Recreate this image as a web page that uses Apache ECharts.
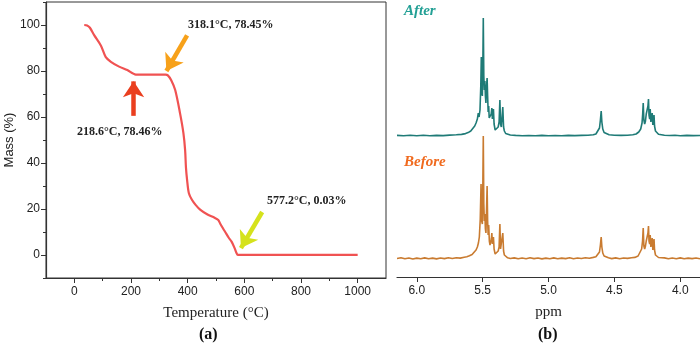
<!DOCTYPE html>
<html>
<head>
<meta charset="utf-8">
<script src="https://cdn.jsdelivr.net/npm/echarts@6/dist/echarts.min.js"></script>
<style>
  html, body { margin: 0; padding: 0; background: #fff; }
  #coolgraph { width: 700px; height: 348px; }
</style>
</head>
<body>
<div id="coolgraph"></div>
<script>
// TGA curve (a)
var tempC   = [35, 45, 55, 70, 94, 111, 129, 158, 187, 217, 250, 300, 322, 330, 342, 356, 373, 385, 391, 394, 398, 404, 415, 428, 445, 470, 495, 508, 515, 525, 532, 545, 555, 566, 572, 577, 600, 700, 800, 900, 1000];
var massPct = [100, 99.8, 98.8, 95.6, 91, 86, 84, 81.9, 80.4, 78.46, 78.45, 78.45, 78.45, 78.1, 76, 71.7, 61.7, 53, 45.6, 38, 32.6, 27, 24, 21.8, 19.6, 17.6, 16.2, 15.2, 13.6, 11.5, 10.1, 7.5, 5.8, 2.9, 1.0, 0.03, 0.03, 0.03, 0.03, 0.03, 0.03];
var tempTicks = [0, 200, 400, 600, 800, 1000];
var tempMinor = [100, 300, 500, 700, 900];
var massTicks = [0, 20, 40, 60, 80, 100];
var massMinor = [-10, 10, 30, 50, 70, 90, 110];

// NMR spectra (b): [ppm, intensity above baseline]
var afterSpec = [
  [6.15,0.6],[6.10,0.2],[6.05,0.8],[6.00,0.3],[5.95,0.7],[5.90,0.2],[5.85,0.6],[5.80,0.4],[5.75,0.9],[5.70,1.2],
  [5.66,1.6],[5.63,2.4],[5.61,3.4],[5.59,5],[5.575,7],[5.56,10],[5.55,13],[5.54,17],[5.533,23],[5.527,19],
  [5.52,26],[5.514,50],[5.51,79],[5.506,44],[5.502,40],[5.498,75],[5.495,118],[5.491,60],[5.487,46],[5.483,55],
  [5.479,40],[5.475,33],[5.471,48],[5.466,58],[5.462,40],[5.458,24],[5.454,30],[5.45,18],[5.446,16],[5.44,17],
  [5.435,22],[5.43,28],[5.426,17],[5.422,15],[5.418,27],[5.413,12],[5.405,6],[5.397,5],[5.39,6],[5.382,9],
  [5.375,14],[5.369,36],[5.364,12],[5.358,9],[5.353,11],[5.347,29],[5.341,9],[5.335,5],[5.325,2.5],[5.31,1.5],
  [5.29,1],[5.25,0.6],[5.20,0.3],[5.15,0.5],[5.10,0.2],[5.05,0.6],[5.00,0.3],[4.95,0.5],[4.90,0.3],[4.85,0.6],
  [4.80,0.4],[4.75,0.6],[4.70,0.8],[4.66,1.2],[4.64,2],[4.625,3.5],[4.613,8],[4.606,16],[4.60,25],[4.595,14],
  [4.588,7],[4.578,3.5],[4.565,2],[4.54,1.2],[4.50,0.8],[4.45,0.6],[4.40,0.8],[4.36,1.2],[4.335,2],[4.315,4],
  [4.30,7],[4.29,13],[4.285,22],[4.281,33],[4.276,16],[4.27,12],[4.264,15],[4.258,22],[4.254,24],[4.249,20],
  [4.245,30],[4.241,37],[4.237,21],[4.232,17],[4.228,27],[4.223,14],[4.218,12],[4.213,23],[4.208,11],[4.203,10],
  [4.199,21],[4.195,10],[4.188,5],[4.178,3],[4.165,1.8],[4.15,1.2],[4.12,0.8],[4.08,0.5],[4.04,0.7],[4.00,0.3],
  [3.95,0.6],[3.90,0.4],[3.85,0.5]
];
var beforeSpec = [
  [6.15,0.5],[6.12,1.2],[6.09,0.2],[6.06,1.0],[6.03,0],[6.00,0.9],[5.97,0.3],[5.94,1.1],[5.91,0.2],[5.88,0.9],
  [5.85,0.1],[5.82,1.0],[5.79,0.4],[5.76,1.2],[5.73,0.5],[5.70,1.3],[5.67,0.9],[5.64,1.8],[5.62,2.3],[5.60,3.2],
  [5.58,4.5],[5.565,6.5],[5.55,9],[5.54,12],[5.532,16],[5.525,22],[5.518,40],[5.512,75],[5.507,38],[5.502,35],
  [5.498,80],[5.495,123],[5.491,55],[5.487,38],[5.483,45],[5.479,30],[5.475,26],[5.471,45],[5.466,73],[5.462,38],
  [5.458,24],[5.454,34],[5.449,18],[5.444,14],[5.439,16],[5.434,20],[5.43,26],[5.426,15],[5.422,14],[5.418,22],
  [5.413,10],[5.405,5],[5.397,4],[5.39,5],[5.382,8],[5.375,12],[5.369,35],[5.364,10],[5.358,8],[5.353,10],
  [5.347,26],[5.341,8],[5.335,4],[5.325,2],[5.31,1.2],[5.29,0.5],[5.26,1.1],[5.23,0.2],[5.20,1.0],[5.17,0.3],
  [5.14,1.2],[5.11,0.4],[5.08,1.0],[5.05,0.1],[5.02,0.9],[4.99,0.3],[4.96,1.1],[4.93,0.2],[4.90,0.9],[4.87,0.4],
  [4.84,1.2],[4.81,0.3],[4.78,1.0],[4.75,0.5],[4.72,1.2],[4.69,0.8],[4.66,1.6],[4.64,2.2],[4.625,3.5],[4.613,7],
  [4.606,14],[4.60,22],[4.595,12],[4.588,6],[4.578,3],[4.565,1.8],[4.545,1.2],[4.52,0.4],[4.49,1.1],[4.46,0.3],
  [4.43,1.0],[4.40,0.6],[4.37,1.3],[4.345,1.6],[4.32,3],[4.305,5],[4.293,10],[4.286,18],[4.281,31],[4.276,13],
  [4.27,10],[4.264,13],[4.258,18],[4.254,20],[4.249,18],[4.245,26],[4.241,33],[4.237,18],[4.232,15],[4.228,24],
  [4.223,12],[4.218,11],[4.213,21],[4.208,9],[4.203,9],[4.199,20],[4.195,9],[4.188,4],[4.178,2.5],[4.165,1.5],
  [4.15,0.6],[4.12,1.1],[4.09,0.2],[4.06,1.0],[4.03,0.3],[4.00,1.1],[3.97,0.2],[3.94,0.9],[3.91,0.4],[3.88,1.0],
  [3.85,0.3]
];
var ppmTicks = [6.0, 5.5, 5.0, 4.5, 4.0];

// vertical stacking of the two spectra (same units as the hidden y axis)
var afterOffset = 141;
var beforeOffset = 18;

var chartDom = document.getElementById('coolgraph');
var myChart = echarts.init(chartDom);
var option;

var sans = 'Liberation Sans, Arial, sans-serif';
var serif = 'Liberation Serif, Times New Roman, serif';
var axisColor = '#333';

var tgaData = [];
for (let i = 0; i < tempC.length; i++) {
  tgaData.push([tempC[i], massPct[i]]);
}
function shift(spec, off) {
  return spec.map(function (p) { return [p[0], p[1] + off]; });
}

function arrow(from, to, color) {
  return [
    { coord: from, lineStyle: { color: color, width: 4.5, type: 'solid' } },
    { coord: to }
  ];
}

option = {
  animation: false,
  grid: [
    { left: 46, top: 2, width: 340, height: 276, show: true, borderColor: axisColor, borderWidth: 1 },
    { left: 397, right: 0, top: 0, height: 277 }
  ],
  xAxis: [
    {
      gridIndex: 0, type: 'value', min: -100, max: 1100,
      name: 'Temperature (°C)', nameLocation: 'middle', nameGap: 28,
      nameTextStyle: { fontFamily: serif, fontSize: 15, color: '#222' },
      axisLine: { onZero: false, lineStyle: { color: axisColor, width: 1.2 } },
      axisTick: { customValues: tempTicks, length: 5, lineStyle: { color: axisColor } },
      axisLabel: {
        customValues: tempTicks, fontFamily: sans, fontSize: 12, color: '#222', margin: 8,
        formatter: function (v) { return String(v); }
      },
      splitLine: { show: false }
    },
    {
      gridIndex: 0, type: 'value', min: -100, max: 1100, position: 'bottom',
      axisLine: { show: false, onZero: false },
      axisTick: { customValues: tempMinor, length: 3, lineStyle: { color: axisColor } },
      axisLabel: { show: false },
      splitLine: { show: false }
    },
    {
      gridIndex: 1, type: 'value', min: 3.85, max: 6.15, inverse: true,
      name: 'ppm', nameLocation: 'middle', nameGap: 28,
      nameTextStyle: { fontFamily: serif, fontSize: 15, color: '#222' },
      axisLine: { onZero: false, lineStyle: { color: axisColor, width: 1.2 } },
      axisTick: { customValues: ppmTicks, length: 5, lineStyle: { color: axisColor } },
      axisLabel: {
        customValues: ppmTicks, fontFamily: sans, fontSize: 12, color: '#222', margin: 8,
        formatter: function (v) { return v.toFixed(1); }
      },
      splitLine: { show: false }
    }
  ],
  yAxis: [
    {
      gridIndex: 0, type: 'value', min: -10, max: 110,
      name: 'Mass (%)', nameLocation: 'middle', nameGap: 27,
      nameTextStyle: { fontFamily: sans, fontSize: 13, color: '#222' },
      axisLine: { show: true, onZero: false, lineStyle: { color: axisColor, width: 1.2 } },
      axisTick: { show: true, customValues: massTicks, length: 5, lineStyle: { color: axisColor } },
      axisLabel: { customValues: massTicks, fontFamily: sans, fontSize: 12, color: '#222', margin: 6 },
      splitLine: { show: false }
    },
    {
      gridIndex: 0, type: 'value', min: -10, max: 110, position: 'left',
      axisLine: { show: false, onZero: false },
      axisTick: { show: true, customValues: massMinor, length: 3, lineStyle: { color: axisColor } },
      axisLabel: { show: false },
      splitLine: { show: false }
    },
    { gridIndex: 1, type: 'value', min: 0, max: 277, show: false }
  ],
  series: [
    {
      name: 'TGA', type: 'line', xAxisIndex: 0, yAxisIndex: 0,
      data: tgaData, showSymbol: false, smooth: 0.3,
      lineStyle: { color: '#f05252', width: 2.2 },
      markLine: {
        silent: true, animation: false,
        symbol: ['none', 'arrow'], symbolSize: 16,
        label: { show: false },
        data: [
          arrow([209, 60.5], [209, 75.5], '#ea3f1f'),
          arrow([398, 95.5], [325, 80], '#f7a11a'),
          arrow([663, 18.7], [588, 3], '#d5e21c')
        ]
      }
    },
    {
      name: 'After', type: 'line', xAxisIndex: 2, yAxisIndex: 2,
      data: shift(afterSpec, afterOffset), showSymbol: false,
      lineStyle: { color: '#1f7b77', width: 1.6 }
    },
    {
      name: 'Before', type: 'line', xAxisIndex: 2, yAxisIndex: 2,
      data: shift(beforeSpec, beforeOffset), showSymbol: false,
      lineStyle: { color: '#c97b30', width: 1.6 }
    }
  ],
  graphic: [
    { type: 'text', left: 188, top: 19, style: { text: '318.1°C, 78.45%', font: 'bold 12px ' + serif, fill: '#222' } },
    { type: 'text', left: 77, top: 126, style: { text: '218.6°C, 78.46%', font: 'bold 12px ' + serif, fill: '#222' } },
    { type: 'text', left: 267, top: 195, style: { text: '577.2°C, 0.03%', font: 'bold 12px ' + serif, fill: '#222' } },
    { type: 'text', left: 404, top: 4, style: { text: 'After', font: 'italic bold 15px ' + serif, fill: '#23a095' } },
    { type: 'text', left: 404, top: 155, style: { text: 'Before', font: 'italic bold 15px ' + serif, fill: '#f06a1e' } },
    { type: 'text', left: 199, top: 327, style: { text: '(a)', font: 'bold 16px ' + serif, fill: '#111' } },
    { type: 'text', left: 538, top: 327, style: { text: '(b)', font: 'bold 16px ' + serif, fill: '#111' } }
  ]
};

option && myChart.setOption(option);
</script>
</body>
</html>
